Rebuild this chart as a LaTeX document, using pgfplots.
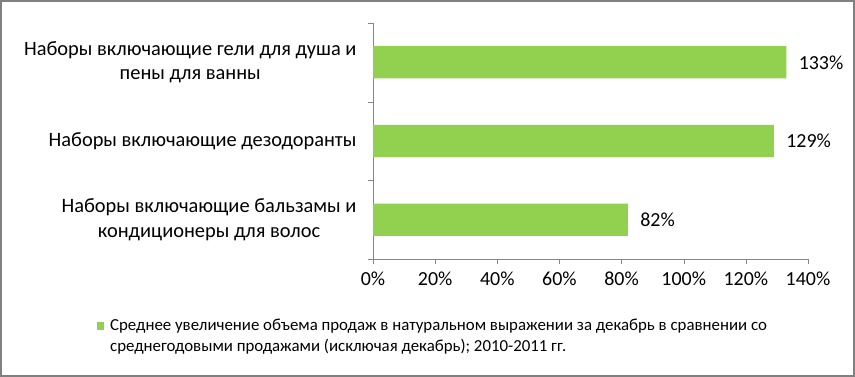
\documentclass[border=0pt]{standalone}
\usepackage{pgfplots}
\pgfplotsset{compat=1.18}
\usepackage{fontspec}
\setmainfont{Carlito}
\definecolor{barGreen}{HTML}{92D050}
\definecolor{axisGray}{HTML}{868686}
\definecolor{frameGray}{HTML}{808080}
\begin{document}
\begin{tikzpicture}
\useasboundingbox (0,0) rectangle (855bp,377bp);
\draw[frameGray, line width=2bp] (1bp,1bp) rectangle (854bp,376bp);
\begin{axis}[
  at={(373bp,118bp)}, anchor=south west,
  scale only axis, width=435bp, height=236bp,
  xbar, bar width=0.41,
  xmin=0, xmax=140, ymin=-0.5, ymax=2.5,
  axis lines*=left,
  axis line style={draw=axisGray, -},
  xtick={0,20,40,60,80,100,120,140},
  xticklabels={0\%,20\%,40\%,60\%,80\%,100\%,120\%,140\%},
  ytick={0,1,2},
  yticklabels={{Наборы включающие бальзамы и\\кондиционеры для волос},{Наборы включающие дезодоранты},{Наборы включающие гели для душа и\\пены для ванны}},
  minor ytick={-0.5,0.5,1.5,2.5},
  tick align=outside,
  major tick length=5bp, minor tick length=5bp,
  y tick style={draw=none},
  minor y tick style={draw=axisGray},
  x tick style={draw=axisGray},
  yticklabel style={align=center, font=\fontsize{20.5}{24.5}\selectfont, xshift=-8bp},
  xticklabel style={font=\fontsize{20}{24}\selectfont, yshift=-4bp},
  nodes near coords={\pgfmathprintnumber[assume math mode=true]{\pgfplotspointmeta}\%},
  point meta=x,
  every node near coord/.append style={font=\fontsize{20}{24}\selectfont, anchor=west, xshift=9bp, black},
  legend style={at={(axis description cs:-0.6345,-0.2458)}, anchor=north west, draw=none, fill=none, inner sep=0pt,
    font=\fontsize{16.9}{21}\selectfont, legend cell align=left},
  legend image code/.code={\fill[barGreen] (0bp,-4bp) rectangle (7bp,4bp);},
]
\addplot[fill=barGreen, draw=none] coordinates {(82,0) (129,1) (133,2)};
\addlegendentry{\hspace{4bp}\parbox[t]{700bp}{Среднее увеличение объема продаж в натуральном выражении за декабрь в сравнении со\\среднегодовыми продажами (исключая декабрь); 2010-2011 гг.}}
\end{axis}
\end{tikzpicture}
\end{document}
